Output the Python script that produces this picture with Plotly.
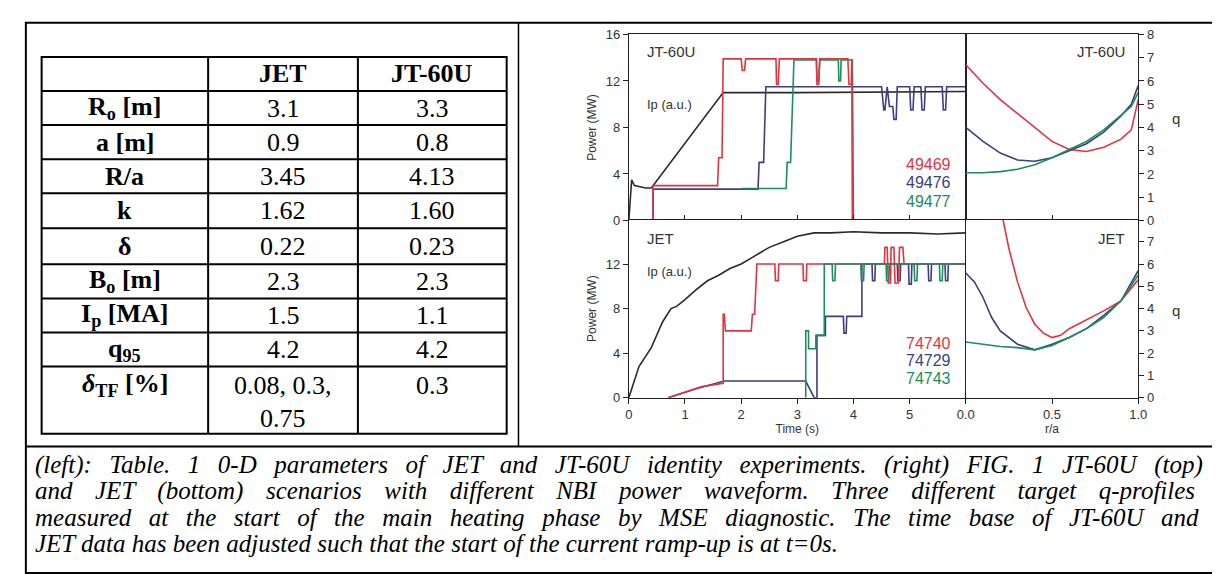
import plotly.graph_objects as go

W, H = 1220, 574
# ---------- data ----------
row_labels = ["R<sub>o</sub> [m]", "a [m]", "R/a", "k", "δ", "B<sub>o</sub> [m]",
              "I<sub>p</sub> [MA]", "q<sub>95</sub>", "<i>δ</i><sub>TF</sub> [%]"]
col_heads = ["JET", "JT-60U"]
jet_vals = ["3.1", "0.9", "3.45", "1.62", "0.22", "2.3", "1.5", "4.2", "0.08, 0.3,"]
jet_vals_extra = "0.75"
jt_vals = ["3.3", "0.8", "4.13", "1.60", "0.23", "2.3", "1.1", "4.2", "0.3"]

# JT-60U power traces (time s, MW)
jt_ip_t = [0, 0.05, 0.1, 0.3, 0.4, 1.68, 3.0, 4.5, 6.0]
jt_ip_v = [0, 3.5, 3.0, 2.8, 2.8, 11.0, 11.0, 11.05, 11.1]
r49469_t = [0.43, 0.43, 1.58, 1.6, 1.66, 1.68, 2.0, 2.02, 2.06, 2.08, 2.62, 2.63, 2.66, 2.68, 3.34, 3.35, 3.38, 3.4, 3.9, 3.92, 3.96, 3.97, 3.98]
r49469_v = [0, 3.0, 3.0, 5.4, 5.4, 13.9, 13.9, 12.9, 12.9, 13.9, 13.9, 11.7, 11.7, 13.9, 13.9, 11.7, 11.7, 13.9, 13.9, 11.7, 11.7, 13.9, 0]
b49476_t = [0.43, 0.43, 2.3, 2.32, 2.4, 2.44, 4.5, 4.54, 4.56, 4.6, 4.64, 4.7, 4.72, 4.76, 4.78, 4.8, 5.0, 5.02, 5.06, 5.08, 5.2, 5.22, 5.26, 5.28, 5.58, 5.6, 5.64, 5.66, 6.0]
b49476_v = [0, 2.7, 2.7, 5.0, 5.0, 11.5, 11.5, 9.5, 9.5, 11.5, 9.8, 9.8, 8.7, 8.7, 11.5, 11.5, 11.5, 9.5, 9.5, 11.5, 11.5, 9.5, 9.5, 11.5, 11.5, 9.5, 9.5, 11.5, 11.5]
g49477_t = [2.0, 2.8, 2.82, 2.88, 2.94, 3.34, 3.35, 3.38, 3.4, 3.73, 3.74, 3.77, 3.78, 3.98, 4.0]
g49477_v = [2.75, 2.75, 5.0, 5.0, 13.8, 13.8, 12.0, 12.0, 13.8, 13.8, 12.0, 12.0, 13.8, 13.8, 0]

# JET power traces
jet_ip_t = [0, 0.18, 0.4, 0.6, 0.75, 0.85, 1.0, 1.2, 1.4, 1.6, 1.8, 2.0, 2.2, 2.5, 2.8, 3.0, 3.3, 3.6, 4.0, 4.5, 5.0, 5.5, 6.0]
jet_ip_v = [0, 2.8, 4.5, 6.8, 8.0, 8.2, 8.8, 9.7, 10.5, 11.0, 11.6, 12.0, 12.6, 13.5, 14.1, 14.5, 14.8, 14.8, 14.9, 14.8, 14.8, 14.7, 14.8]
r74740_t = [0.7, 1.0, 1.3, 1.68, 1.68, 1.7, 1.72, 2.18, 2.2, 2.24, 2.28, 2.6, 2.61, 2.66, 2.67, 3.1, 3.11, 3.16, 3.17, 4.55, 4.56, 4.6, 4.62, 4.66, 4.67, 4.72, 4.74, 4.8, 4.82, 4.88, 4.9, 6.0]
r74740_v = [0, 0.5, 1.0, 1.3, 7.5, 7.5, 6.0, 6.0, 7.5, 7.5, 12.0, 12.0, 10.5, 10.5, 12.0, 12.0, 10.5, 10.5, 12.0, 12.0, 13.5, 13.5, 10.3, 10.3, 13.5, 13.5, 10.3, 10.3, 13.5, 13.5, 12.0, 12.0]
b74729_t = [0.7, 1.2, 1.7, 3.15, 3.3, 3.3, 3.35, 3.35, 3.5, 3.5, 3.82, 3.83, 3.87, 3.88, 4.15, 4.15, 4.33, 4.34, 4.38, 4.39, 4.78, 4.79, 4.83, 4.84, 4.98, 4.99, 5.03, 5.04, 5.33, 5.34, 5.38, 5.39, 5.63, 5.64, 5.68, 5.69, 6.0]
b74729_v = [0, 0.8, 1.5, 1.5, 0, 0, 0, 5.6, 5.6, 7.3, 7.3, 5.8, 5.8, 7.3, 7.3, 12.0, 12.0, 10.5, 10.5, 12.0, 12.0, 10.5, 10.5, 12.0, 12.0, 10.2, 10.2, 12.0, 12.0, 10.5, 10.5, 12.0, 12.0, 10.5, 10.5, 12.0, 12.0]
g74743_t = [3.15, 3.15, 3.2, 3.2, 3.33, 3.33, 3.48, 3.48, 3.62, 3.63, 3.67, 3.68, 4.13, 4.14, 4.18, 4.19, 4.58, 4.59, 4.63, 4.64, 5.08, 5.09, 5.13, 5.14, 5.53, 5.54, 5.58, 5.59, 6.0]
g74743_v = [0, 6.0, 6.0, 4.4, 4.4, 5.6, 5.6, 12.0, 12.0, 10.5, 10.5, 12.0, 12.0, 10.5, 10.5, 12.0, 12.0, 10.5, 10.5, 12.0, 12.0, 10.5, 10.5, 12.0, 12.0, 10.5, 10.5, 12.0, 12.0]

# q-profiles
jt_r = [0, 0.1, 0.2, 0.3, 0.4, 0.5, 0.6, 0.7, 0.8, 0.9, 0.96, 1.0]
jt_q_red = [6.7, 5.9, 5.2, 4.6, 4.0, 3.4, 3.05, 2.97, 3.15, 3.5, 3.9, 5.2]
jt_q_blue = [4.0, 3.4, 2.9, 2.6, 2.55, 2.7, 3.0, 3.3, 3.8, 4.5, 5.0, 5.8]
jt_q_green = [2.05, 2.05, 2.1, 2.2, 2.4, 2.7, 3.05, 3.4, 3.9, 4.5, 4.9, 5.5]
jet_r_red = [0.2, 0.25, 0.3, 0.35, 0.4, 0.45, 0.5, 0.55, 0.6, 0.7, 0.8, 0.9, 1.0]
jet_q_red = [8.6, 6.7, 5.2, 4.05, 3.3, 2.9, 2.7, 2.8, 3.1, 3.5, 3.9, 4.35, 5.3]
jet_r = [0, 0.05, 0.1, 0.15, 0.2, 0.3, 0.4, 0.5, 0.6, 0.7, 0.8, 0.9, 1.0]
jet_q_blue = [5.6, 5.2, 4.5, 3.6, 3.0, 2.4, 2.15, 2.4, 2.7, 3.1, 3.7, 4.35, 5.7]
jet_q_green = [2.5, 2.45, 2.4, 2.35, 2.3, 2.25, 2.15, 2.35, 2.7, 3.1, 3.6, 4.35, 5.5]

caption = ["(left): Table. 1 0-D parameters of JET and JT-60U identity experiments. (right) FIG. 1 JT-60U (top)",
           "and JET (bottom) scenarios with different NBI power waveform. Three different target q-profiles",
           "measured at the start of the main heating phase by MSE diagnostic. The time base of JT-60U and",
           "JET data has been adjusted such that the start of the current ramp-up is at t=0s."]

RED, BLUE, GREEN, BLACK = "#e2333f", "#3b3f7e", "#1d8c5e", "#2a2a2a"

def px(x): return x / W
def py(y): return 1 - y / H

fig = go.Figure()
def add(x, y, c, xa, ya, w=1.6):
    fig.add_trace(go.Scatter(x=x, y=y, mode="lines", line=dict(color=c, width=w),
                             xaxis=xa, yaxis=ya, showlegend=False, hoverinfo="skip"))

add(jt_ip_t, jt_ip_v, BLACK, "x", "y")
add(b49476_t, b49476_v, BLUE, "x", "y")
add(g49477_t, g49477_v, GREEN, "x", "y")
add(r49469_t, r49469_v, RED, "x", "y")
add(jet_ip_t, jet_ip_v, BLACK, "x2", "y2")
add(b74729_t, b74729_v, BLUE, "x2", "y2")
add(r74740_t, r74740_v, RED, "x2", "y2")
add(g74743_t, g74743_v, GREEN, "x2", "y2")
add(jt_r, jt_q_red, RED, "x3", "y3")
add(jt_r, jt_q_blue, BLUE, "x3", "y3")
add(jt_r, jt_q_green, GREEN, "x3", "y3")
add(jet_r_red, jet_q_red, RED, "x4", "y4")
add(jet_r, jet_q_blue, BLUE, "x4", "y4")
add(jet_r, jet_q_green, GREEN, "x4", "y4")

axfont = dict(family="Liberation Sans", size=13, color="#333")
tfont = dict(family="Liberation Sans", size=12, color="#333")
ax = dict(showgrid=False, zeroline=False, showline=True, linecolor="#222", linewidth=1.2,
          mirror=True, ticks="outside", ticklen=5, tickcolor="#222", tickfont=axfont)
xl = [px(621), px(963)]
xr = [px(963), px(1138)]
yt = [py(211), py(20)]
yb = [py(393), py(210)]

fig.update_layout(
    width=W, height=H, margin=dict(l=0, r=0, t=0, b=0),
    paper_bgcolor="white", plot_bgcolor="white",
    xaxis=dict(ax, domain=xl, range=[0, 6], tickvals=[1, 2, 3, 4, 5], showticklabels=False,
               ticks="inside", anchor="y"),
    yaxis=dict(ax, domain=yt, range=[0, 16], tickvals=[0, 4, 8, 12, 16], anchor="x",
               title=dict(text="Power (MW)", font=tfont, standoff=6)),
    xaxis2=dict(ax, domain=xl, range=[0, 6], tickvals=[0, 1, 2, 3, 4, 5], anchor="y2",
                title=dict(text="Time (s)", font=tfont, standoff=2)),
    yaxis2=dict(ax, domain=yb, range=[0, 16], tickvals=[0, 4, 8, 12], anchor="x2",
                title=dict(text="Power (MW)", font=tfont, standoff=6)),
    xaxis3=dict(ax, domain=xr, range=[0, 1], tickvals=[0.5], showticklabels=False,
                ticks="inside", anchor="y3"),
    yaxis3=dict(ax, domain=yt, range=[0, 8], tickvals=list(range(9)), side="right",
                anchor="x3", ticks="outside"),
    xaxis4=dict(ax, domain=xr, range=[0, 1], tickvals=[0, 0.5, 1.0], ticktext=["0.0", "0.5", "1.0"],
                anchor="y4", title=dict(text="r/a", font=tfont, standoff=2)),
    yaxis4=dict(ax, domain=yb, range=[0, 8], tickvals=list(range(8)), side="right",
                anchor="x4", ticks="outside"),
)

shapes = []
def rect(x0, y0, x1, y1, w=2):
    shapes.append(dict(type="rect", xref="paper", yref="paper", x0=px(x0), x1=px(x1),
                       y0=py(y1), y1=py(y0), line=dict(color="black", width=w)))
def line(x0, y0, x1, y1, w=2):
    shapes.append(dict(type="line", xref="paper", yref="paper", x0=px(x0), x1=px(x1),
                       y0=py(y0), y1=py(y1), line=dict(color="black", width=w)))

rect(9, 8, 1214, 573)
line(9, 443, 1214, 443)
line(509, 8, 509, 443, 1.5)
col_x = [25, 194, 346, 497]
row_y = [43, 78, 113, 148, 183, 219, 256, 291, 326, 361, 430]
rect(col_x[0], row_y[0], col_x[-1], row_y[-1], 2)
for cx in col_x[1:-1]:
    line(cx, row_y[0], cx, row_y[-1], 2)
for ry in row_y[1:-1]:
    line(col_x[0], ry, col_x[-1], ry, 2)
fig.update_layout(shapes=shapes)

ann = []
def text(x, y, s, size=26, bold=False, anchor="center", family="Liberation Serif", color="black", italic=False):
    if bold: s = "<b>" + s + "</b>"
    if italic: s = "<i>" + s + "</i>"
    ann.append(dict(x=px(x), y=py(y), xref="paper", yref="paper", text=s, showarrow=False,
                    xanchor=anchor, yanchor="middle", font=dict(family=family, size=size, color=color)))

for j, h in enumerate(col_heads):
    text((col_x[j + 1] + col_x[j + 2]) / 2, (row_y[0] + row_y[1]) / 2, h, bold=True)
for i, lab in enumerate(row_labels):
    yc = (row_y[i + 1] + row_y[i + 2]) / 2
    if i == 8:
        yc = row_y[i + 1] + 19
    text((col_x[0] + col_x[1]) / 2, yc, lab, bold=True)
    text((col_x[1] + col_x[2]) / 2, yc, jet_vals[i])
    text((col_x[2] + col_x[3]) / 2, yc, jt_vals[i])
text((col_x[1] + col_x[2]) / 2, row_y[9] + 53, jet_vals_extra)

pf = "Liberation Sans"
text(637, 37, "JT-60U", 15, anchor="left", family=pf, color="#333")
text(637, 92, "Ip (a.u.)", 13, anchor="left", family=pf, color="#333")
text(637, 229, "JET", 15, anchor="left", family=pf, color="#333")
text(637, 263, "Ip (a.u.)", 13, anchor="left", family=pf, color="#333")
text(950, 154, "49469", 16, anchor="right", family=pf, color=RED)
text(950, 172, "49476", 16, anchor="right", family=pf, color=BLUE)
text(950, 191, "49477", 16, anchor="right", family=pf, color=GREEN)
text(950, 337, "74740", 16, anchor="right", family=pf, color=RED)
text(950, 355, "74729", 16, anchor="right", family=pf, color=BLUE)
text(950, 373, "74743", 16, anchor="right", family=pf, color=GREEN)
text(1127, 37, "JT-60U", 15, anchor="right", family=pf, color="#333")
text(1127, 229, "JET", 15, anchor="right", family=pf, color="#333")
text(1170, 106, "q", 15, anchor="left", family=pf, color="#333")
text(1170, 303, "q", 15, anchor="left", family=pf, color="#333")

gaps = [" \u00a0\u2009", " \u00a0\u2009\u2009", " \u00a0\u2009", " "]
for k, c in enumerate(caption):
    text(16, [462, 489, 516, 543][k], c.replace(" ", gaps[k]), 25, anchor="left", italic=True)

fig.update_layout(annotations=ann)
fig.write_html("out.html")
